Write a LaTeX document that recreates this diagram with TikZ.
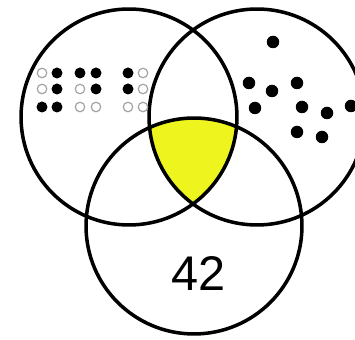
\documentclass[tikz,border=0pt]{standalone}
\usepackage{fontspec}
\setmainfont{Liberation Sans}
\usepackage{tikz}
\usetikzlibrary{positioning}
\definecolor{vennyellow}{RGB}{238,245,30}
\definecolor{holegray}{RGB}{165,165,165}

\begin{document}
\begin{tikzpicture}[
  x=0.02cm, y=0.02cm,
  set/.style={draw, circle, line width=2pt, inner sep=0pt, minimum size=4.32cm},
  pip/.style={fill=black, circle, inner sep=0pt, minimum size=0.22cm},
  hole/.style={draw=holegray, line width=0.7pt, circle, inner sep=0pt, minimum size=0.19cm},
  spot/.style={fill=black, circle, inner sep=0pt, minimum size=0.25cm}
]
\useasboundingbox (0,0) rectangle (355,340);

\coordinate (lc) at (129,223);
\coordinate (rc) at (257,223);
\coordinate (bc) at (194,114);

% common part of the three sets
\begin{scope}
  \clip (lc) circle (2.16cm);
  \clip (rc) circle (2.16cm);
  \fill[vennyellow] (bc) circle (2.16cm);
\end{scope}

\node[set] (braille) at (lc) {};
\node[set] (dots) at (rc) {};
\node[set] (number) at (bc) {};

% braille cells
\node[hole] (a11) at (42,267) {};
\node[pip]  (a12) at (57,267) {};
\node[hole] (a21) at (42,251) {};
\node[pip]  (a22) at (57,251) {};
\node[pip]  (a31) at (42,233) {};
\node[pip]  (a32) at (57,233) {};

\node[pip]  (b11) at (80,267) {};
\node[pip]  (b12) at (96,267) {};
\node[hole] (b21) at (80,251) {};
\node[pip]  (b22) at (96,251) {};
\node[hole] (b31) at (80,233) {};
\node[hole] (b32) at (96,233) {};

\node[pip]  (c11) at (128,267) {};
\node[hole] (c12) at (143,267) {};
\node[pip]  (c21) at (128,251) {};
\node[hole] (c22) at (143,251) {};
\node[hole] (c31) at (128,233) {};
\node[hole] (c32) at (143,233) {};

% loose dots
\node[spot] (d1) at (273,298) {};
\node[spot] (d2) at (249,257) {};
\node[spot] (d3) at (272,249) {};
\node[spot] (d4) at (297,257) {};
\node[spot] (d5) at (255,232) {};
\node[spot] (d6) at (302,233) {};
\node[spot] (d7) at (327,227) {};
\node[spot] (d8) at (351,234) {};
\node[spot] (d9) at (297,208) {};
\node[spot] (d10) at (322,203) {};

\node[font=\fontsize{27.7}{30}\selectfont] (answer) at (199,66) {42};
\end{tikzpicture}
\end{document}
